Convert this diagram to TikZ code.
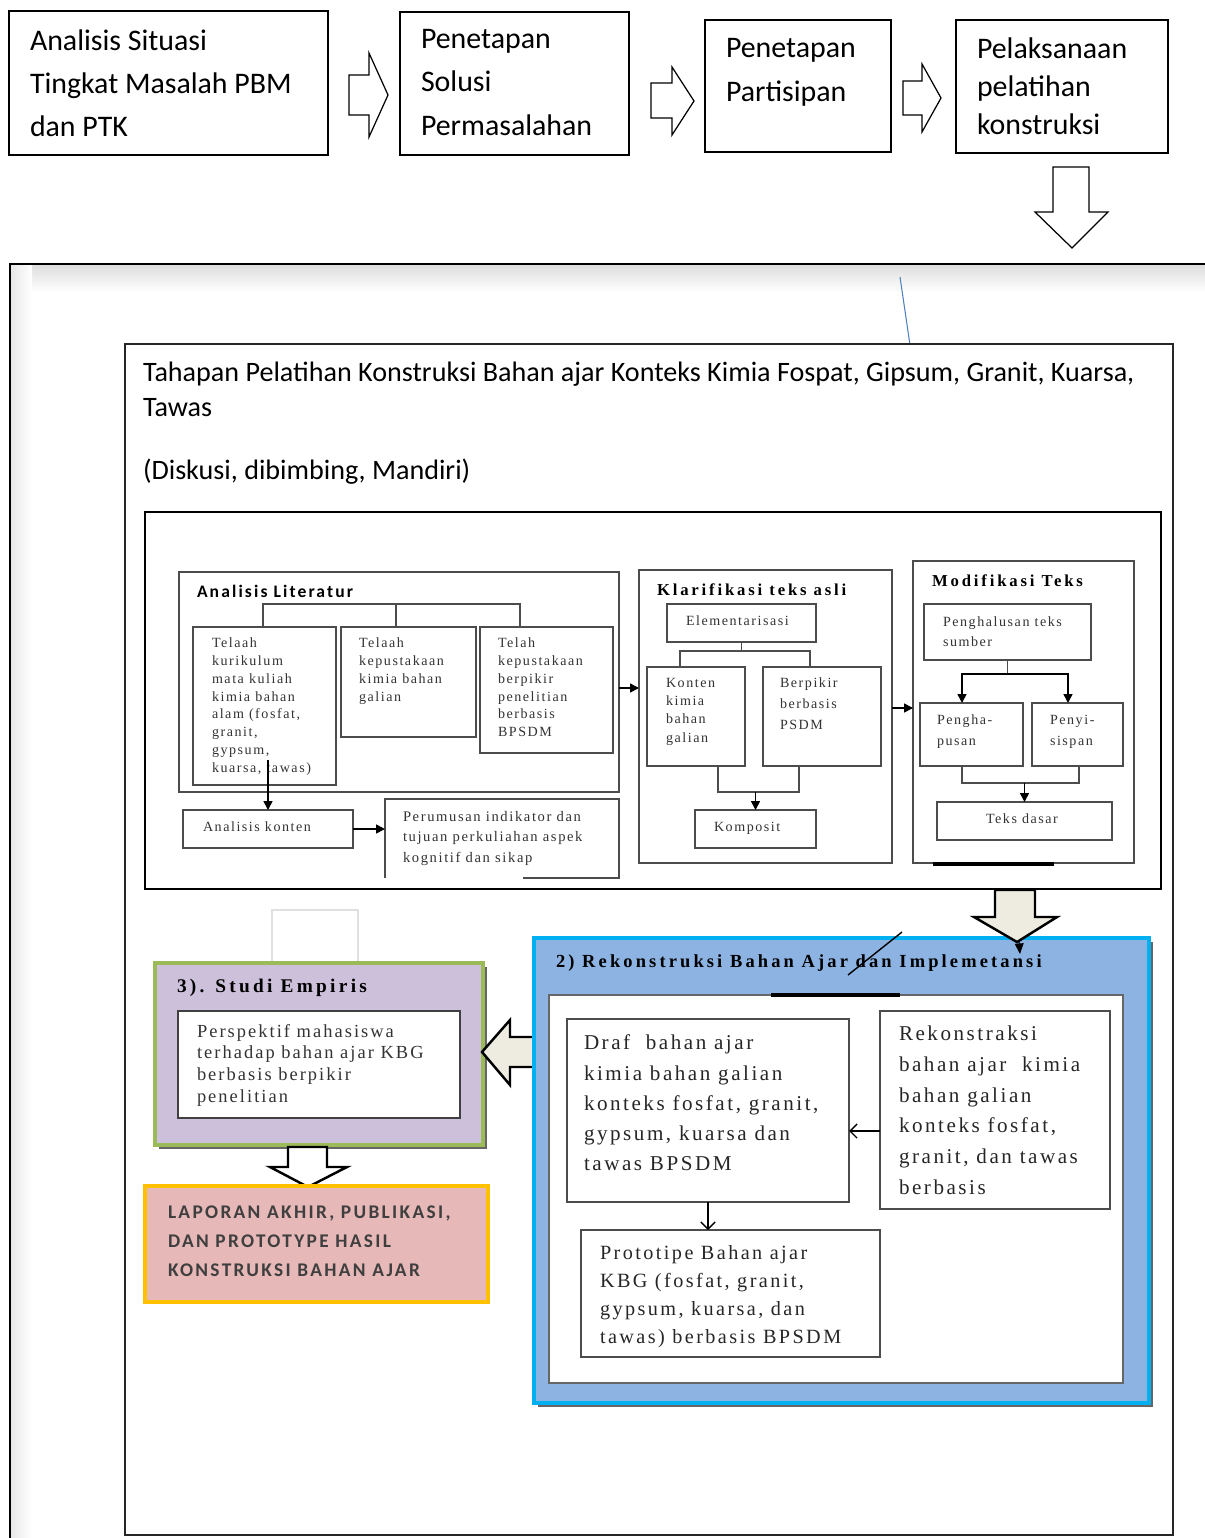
\documentclass[tikz,border=0pt]{standalone}
\usepackage{fontspec}
\setmainfont{Liberation Serif}
\newfontfamily\carl{Carlito}
\newfontfamily\carlsp[LetterSpace=12]{Carlito}
\newfontfamily\tms[LetterSpace=11]{Liberation Serif}
\newfontfamily\tmsrek[LetterSpace=12]{Liberation Serif}
\newfontfamily\tmshead[LetterSpace=17]{Liberation Serif}
\usetikzlibrary{positioning, arrows.meta, fit, calc}
\definecolor{rekblue}{HTML}{8DB3E2}
\definecolor{rekcyan}{HTML}{00B0F0}
\definecolor{empviolet}{HTML}{CCC0DA}
\definecolor{empgreen}{HTML}{9BBB59}
\definecolor{lappink}{HTML}{E6B8B7}
\definecolor{lapgold}{HTML}{FFC000}
\definecolor{fatfill}{HTML}{EEECE1}
\definecolor{lapgray}{HTML}{3F3F3F}
\definecolor{garisbiru}{HTML}{4F81BD}

\begin{document}
\begin{tikzpicture}[x=0.2mm, y=-0.2mm, inner sep=0pt, outer sep=0pt,
  topbox/.style={draw, line width=0.7pt, fit={#1}},
  toptxt/.style={anchor=north west, align=left, font=\carl\fontsize{17}{24.5}\selectfont},
  litbox/.style={draw=black!70, line width=1pt, fit={#1}},
  littxt/.style={anchor=north west, align=left, text=black!80, font=\tms\fontsize{8}{10.1}\selectfont},
  lithead/.style={anchor=west, font=\tmshead\bfseries\fontsize{9.5}{11}\selectfont},
  rekbox/.style={draw=black!70, line width=0.9pt, fill=white, fit={#1}},
  rektxt/.style={anchor=north west, align=left, text=black!85, font=\tmsrek\fontsize{12}{17.2}\selectfont},
  sarr/.style={-{Triangle[length=5pt,width=5pt]}, line width=0.9pt},
  oarr/.style={-{Straight Barb[length=4pt,width=8pt]}, line width=0.8pt},
  hollow/.style={draw, line width=0.7pt, fill=white, line join=miter},
  fatarrow/.style={draw, line width=1.4pt, line join=miter, fill=fatfill}]
\useasboundingbox (0,0) rectangle (1204,1538);
\fill[white] (0,0) rectangle (1204,1538);

% alur awal
\node[topbox={(9,11) (328,155)}] (situasi) {};
\node[toptxt] (situasit) at (30,30) {Analisis Situasi\\Tingkat Masalah PBM\\dan PTK};
\node[topbox={(400,12) (629,155)}] (solusi) {};
\node[toptxt, font=\carl\fontsize{17}{24.8}\selectfont] (solusit) at (421,29) {Penetapan\\Solusi\\Permasalahan};
\node[topbox={(705,20) (891,152)}] (partisipan) {};
\node[toptxt, font=\carl\fontsize{17}{25}\selectfont] (partisipant) at (726,38) {Penetapan\\Partisipan};
\node[topbox={(956,20) (1168,153)}] (pelaksanaan) {};
\node[toptxt, font=\carl\fontsize{17}{21.6}\selectfont] (pelaksanaant) at (977,38) {Pelaksanaan\\pelatihan\\konstruksi};
\draw[hollow] (349,75) -- (369,75) -- (369,53) -- (388,95) -- (369,137) -- (369,115) -- (349,115) -- cycle;
\draw[hollow] (651,83) -- (672,83) -- (672,67) -- (694,101) -- (672,135) -- (672,118) -- (651,118) -- cycle;
\draw[hollow] (903,81) -- (922,81) -- (922,64) -- (941,98) -- (922,132) -- (922,115) -- (903,115) -- cycle;
\draw[hollow] (1053,167) -- (1089,167) -- (1089,212) -- (1108,212) -- (1072,248) -- (1035,212) -- (1053,212) -- cycle;

% bingkai luar
\shade[top color=black!13, bottom color=white] (11,265) rectangle (1230,292);
\shade[left color=black!9, right color=white] (11,265) rectangle (32,1560);
\node[draw, line width=1.2pt, fit={(10,264) (1230,1560)}] (bingkai) {};
\draw[garisbiru, line width=0.6pt] (900,277) -- (910,345);

% tahapan pelatihan
\node[draw=black!85, line width=1.1pt, fill=white, fit={(125,344) (1173,1535)}] (tahapan) {};
\node[anchor=north west, align=left, font=\carl\fontsize{16}{19.9}\selectfont] (tahapant) at (143,362)
  {Tahapan Pelatihan Konstruksi Bahan ajar Konteks Kimia Fospat, Gipsum, Granit, Kuarsa,\\Tawas};
\node[anchor=north west, font=\carl\fontsize{16}{19.9}\selectfont] (diskusit) at (143,459) {(Diskusi, dibimbing, Mandiri)};
\node[draw, line width=1.3pt, fit={(145,512) (1161,889)}] (konstruksi) {};

% analisis literatur
\node[litbox={(179,572) (619,792)}] (literatur) {};
\node[lithead, font=\carlsp\bfseries\fontsize{10}{11}\selectfont] (literaturt) at (197,591) {Analisis Literatur};
\node[litbox={(193,627) (336,785)}] (telaahkur) {};
\node[littxt] (telaahkurt) at (212,638) {Telaah\\kurikulum\\mata kuliah\\kimia bahan\\alam (fosfat,\\granit,\\gypsum,\\kuarsa, tawas)};
\node[litbox={(341,627) (476,737)}] (telaahkep) {};
\node[littxt] (telaahkept) at (359,638) {Telaah\\kepustakaan\\kimia bahan\\galian};
\node[litbox={(480,627) (613,753)}] (telahber) {};
\node[littxt] (telahbert) at (498,638) {Telah\\kepustakaan\\berpikir\\penelitian\\berbasis\\BPSDM};
\coordinate (litpusat) at (396,604);
\draw[draw=black!70, line width=1pt] ($(telaahkur.north west)+(70,0)$) |- (litpusat) -| ($(telahber.north west)+(40,0)$);
\draw[draw=black!70, line width=1pt] (litpusat) -- (litpusat |- telaahkep.north);
\node[litbox={(183,810) (353,848)}] (ankonten) {};
\node[littxt, anchor=west] (ankontent) at (203,827) {Analisis konten};
\node[fit={(385,799) (619,878)}] (perumusan) {};
\draw[draw=black!70, line width=1pt] (perumusan.south west) |- (perumusan.north east) -- (perumusan.south east) -- ($(perumusan.south east)+(-96,0)$);
\node[littxt, font=\tms\fontsize{8.3}{11.7}\selectfont] (perumusant) at (403,811) {Perumusan indikator dan\\tujuan perkuliahan aspek\\kognitif dan sikap};
\draw[sarr] (ankonten.north |- telaahkur.south) ++(0,-25) -- (ankonten.north);
\draw[sarr] (ankonten.east) -- (ankonten.east -| perumusan.west);

% klarifikasi teks asli
\node[litbox={(639,570) (892,863)}] (klarifikasi) {};
\node[lithead] (klarifikasit) at (657,590) {Klarifikasi teks asli};
\node[litbox={(667,604) (816,642)}] (elementer) {};
\node[littxt, anchor=west] (elementert) at (686,621) {Elementarisasi};
\node[litbox={(647,667) (745,766)}] (kontenkim) {};
\node[littxt, font=\tms\fontsize{8}{10.4}\selectfont] (kontenkimt) at (666,678) {Konten\\kimia\\bahan\\galian};
\node[litbox={(763,667) (881,766)}] (berpikir) {};
\node[littxt, font=\tms\fontsize{8}{12}\selectfont] (berpikirt) at (780,678) {Berpikir\\berbasis\\PSDM};
\node[litbox={(695,810) (816,848)}] (komposit) {};
\node[littxt, anchor=west] (kompositt) at (714,828) {Komposit};
\draw[draw=black!70, line width=1pt] (elementer.south) -- (elementer.south |- 0,651) coordinate (elpusat);
\draw[draw=black!70, line width=1pt] ($(kontenkim.north west)+(33,0)$) |- (elpusat) -| ($(berpikir.north west)+(47,0)$);
\draw[draw=black!70, line width=1pt] ($(kontenkim.south west)+(71,0)$) -- ++(0,26) -| ($(berpikir.south west)+(36,0)$);
\draw[sarr] (komposit.north |- 0,792) -- (komposit.north);
\draw[sarr] (literatur.east |- 0,688) -- (klarifikasi.west |- 0,688);

% modifikasi teks
\node[litbox={(913,561) (1134,863)}] (modifikasi) {};
\node[lithead] (modifikasit) at (932,581) {Modifikasi Teks};
\node[litbox={(924,604) (1091,660)}] (penghalusan) {};
\node[littxt, font=\tms\fontsize{8}{11.4}\selectfont] (penghalusant) at (943,617) {Penghalusan teks\\sumber};
\node[litbox={(920,703) (1023,766)}] (penghapusan) {};
\node[littxt, font=\tms\fontsize{8}{12}\selectfont] (penghapusant) at (937,715) {Pengha-\\pusan};
\node[litbox={(1032,703) (1123,766)}] (penyisipan) {};
\node[littxt, font=\tms\fontsize{8}{12}\selectfont] (penyisipant) at (1050,715) {Penyi-\\sispan};
\node[litbox={(937,802) (1112,840)}] (teksdasar) {};
\node[littxt, anchor=west] (teksdasart) at (986,819) {Teks dasar};
\draw[draw=black!70, line width=1pt] (penghalusan.south) -- (penghalusan.south |- 0,674) coordinate (phpusat);
\draw[sarr] (phpusat) -| ($(penghapusan.north west)+(42,0)$);
\draw[sarr] (phpusat) -| ($(penyisipan.north west)+(36,0)$);
\draw[draw=black!70, line width=1pt] ($(penghapusan.south west)+(42,0)$) -- ++(0,17) -| ($(penyisipan.south west)+(47,0)$);
\draw[sarr] (teksdasar.north |- 0,783) -- (teksdasar.north);
\draw[sarr] (klarifikasi.east |- 0,708) -- (modifikasi.west |- 0,708);
\draw[line width=2.2pt] (933,864) -- (1054,864);

% studi empiris
\node[draw=black!12, line width=1pt, fit={(272,910) (358,962)}] (kosong) {};
\fill[black!60] (159,967) rectangle (487,1149);
\node[draw=empgreen, fill=empviolet, line width=2.5pt, fit={(155,963) (483,1145)}] (empiris) {};
\node[anchor=west, font=\tmshead\bfseries\fontsize{11}{12}\selectfont] (empirist) at (177,988) {3). Studi Empiris};
\node[draw=black!75, line width=0.9pt, fill=white, fit={(178,1011) (460,1118)}] (empdalam) {};
\node[anchor=north west, align=left, text=black!80, font=\tms\fontsize{10.5}{12.5}\selectfont] (empdalamt) at (197,1024)
  {Perspektif mahasiswa\\terhadap bahan ajar KBG\\berbasis berpikir\\penelitian};
\draw[fatarrow, fill=white] (288,1147) -- (327,1147) -- (327,1167) -- (347,1167) -- (308,1187) -- (270,1167) -- (288,1167) -- cycle;

% laporan
\node[draw=lapgold, fill=lappink, line width=2.5pt, fit={(145,1186) (488,1302)}] (laporan) {};
\node[anchor=north west, align=left, text=lapgray, font=\carlsp\bfseries\fontsize{11}{16.5}\selectfont] (laporant) at (168,1206)
  {LAPORAN AKHIR, PUBLIKASI,\\DAN PROTOTYPE HASIL\\KONSTRUKSI BAHAN AJAR};

% rekonstruksi
\draw[fatarrow] (538,1037) -- (510,1037) -- (510,1020) -- (482,1052) -- (510,1085) -- (510,1067) -- (538,1067) -- cycle;
\fill[black!60] (538,942) rectangle (1153,1407);
\node[draw=rekcyan, fill=rekblue, line width=2.5pt, fit={(534,938) (1149,1403)}] (rekonstruksi) {};
\node[anchor=west, font=\tmshead\bfseries\fontsize{10.5}{12}\selectfont, /utils/exec={\addfontfeatures{LetterSpace=20}}] (rekonstruksit) at (556,963) {2) Rekonstruksi Bahan Ajar dan Implemetansi};
\node[draw=black!60, fill=white, line width=0.9pt, fit={(549,995) (1123,1383)}] (rekdalam) {};
\draw[line width=2.2pt] (771,995) -- (900,995);
\node[rekbox={(567,1019) (849,1202)}] (draf) {};
\node[rektxt] (draft) at (584,1035) {Draf\ \ bahan ajar\\kimia bahan galian\\konteks fosfat, granit,\\gypsum, kuarsa dan\\tawas BPSDM};
\node[rekbox={(880,1011) (1110,1209)}] (rekonstraksi) {};
\node[rektxt, font=\tmsrek\fontsize{12}{17.5}\selectfont] (rekonstraksit) at (899,1026) {Rekonstraksi\\bahan ajar\ \ kimia\\bahan galian\\konteks fosfat,\\granit, dan tawas\\berbasis};
\node[rekbox={(581,1230) (880,1357)}] (prototipe) {};
\node[rektxt, font=\tmsrek\fontsize{11.5}{16.1}\selectfont] (prototipet) at (600,1245) {Prototipe Bahan ajar\\KBG (fosfat, granit,\\gypsum, kuarsa, dan\\tawas) berbasis BPSDM};
\draw[oarr] (rekonstraksi.west |- 0,1131) -- (draf.east |- 0,1131);
\draw[oarr] (draf.south) -- (draf.south |- prototipe.north);

% panah besar
\draw[fatarrow] (995,890) -- (1035,890) -- (1035,917) -- (1057,917) -- (1017,942) -- (974,917) -- (995,917) -- cycle;
\draw[-{Triangle[length=6pt,width=5pt]}, line width=0.6pt] (1019,941) -- (1020,954);
\draw[line width=0.8pt] (902,932) -- (848,975);
\end{tikzpicture}
\end{document}
